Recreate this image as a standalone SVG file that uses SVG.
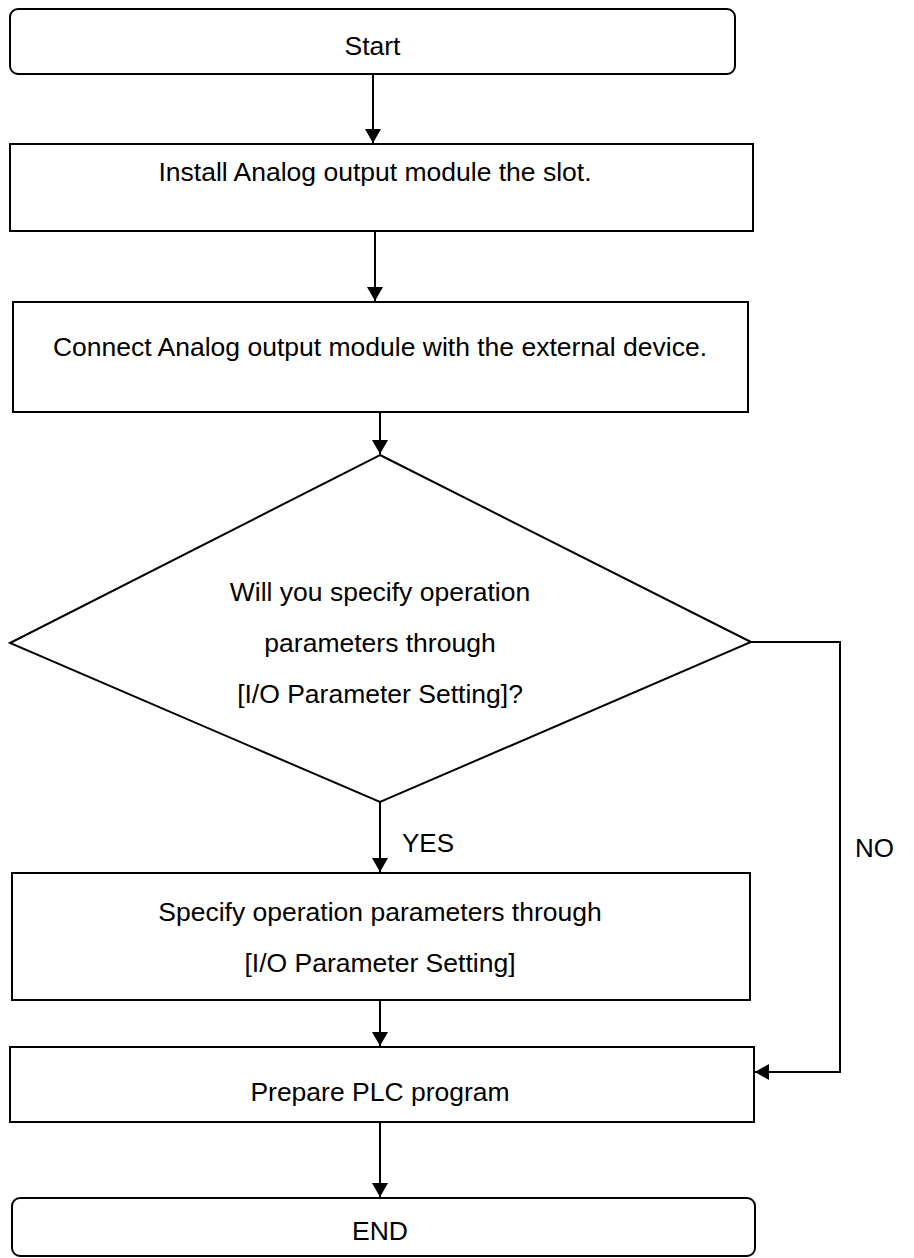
<svg xmlns="http://www.w3.org/2000/svg" width="914" height="1258" viewBox="0 0 914 1258">
<style>
.box{fill:#fff;stroke:#000;stroke-width:2}
.ln{fill:none;stroke:#000;stroke-width:2}
.t{font-family:"Liberation Sans",Arial,sans-serif;font-size:26.5px;fill:#000;text-anchor:middle}
.l{font-family:"Liberation Sans",Arial,sans-serif;font-size:26px;fill:#000}
</style>
<defs>
<marker id="arr" markerWidth="16" markerHeight="16" refX="14" refY="8" orient="auto" markerUnits="userSpaceOnUse">
<path d="M0,0 L14,8 L0,16 Z" fill="#000"/>
</marker>
</defs>
<rect width="914" height="1258" fill="#fff"/>
<g id="connectors">
<line class="ln" x1="373" y1="74" x2="373" y2="143" marker-end="url(#arr)"/>
<line class="ln" x1="375" y1="231" x2="375" y2="301" marker-end="url(#arr)"/>
<line class="ln" x1="380" y1="412" x2="380" y2="454" marker-end="url(#arr)"/>
<line class="ln" x1="380" y1="802" x2="380" y2="872" marker-end="url(#arr)"/>
<line class="ln" x1="380" y1="1000" x2="380" y2="1046" marker-end="url(#arr)"/>
<line class="ln" x1="380" y1="1122" x2="380" y2="1197" marker-end="url(#arr)"/>
<polyline class="ln" points="751,642 840,642 840,1072 755,1072" marker-end="url(#arr)"/>
<text class="l" x="402" y="852">YES</text>
<text class="l" x="855" y="857">NO</text>
</g>
<g id="start">
<rect class="box" x="10" y="9" width="725" height="65" rx="8"/>
<text class="t" x="372.5" y="55">Start</text>
</g>
<g id="install">
<rect class="box" x="10" y="144" width="743" height="87"/>
<text class="t" x="375" y="181">Install Analog output module the slot.</text>
</g>
<g id="connect">
<rect class="box" x="13" y="302" width="735" height="110"/>
<text class="t" x="380" y="356">Connect Analog output module with the external device.</text>
</g>
<g id="decision">
<polygon class="box" points="380,455 751,642 380,802 10,643"/>
<text class="t" x="380" y="601">Will you specify operation</text>
<text class="t" x="380" y="652">parameters through</text>
<text class="t" x="380" y="703">[I/O Parameter Setting]?</text>
</g>
<g id="specify">
<rect class="box" x="12" y="873" width="738" height="127"/>
<text class="t" x="380" y="921">Specify operation parameters through</text>
<text class="t" x="380" y="972">[I/O Parameter Setting]</text>
</g>
<g id="prepare">
<rect class="box" x="10" y="1047" width="744" height="75"/>
<text class="t" x="380" y="1101">Prepare PLC program</text>
</g>
<g id="end">
<rect class="box" x="12" y="1198" width="743" height="58" rx="8"/>
<text class="t" x="380" y="1240">END</text>
</g>
</svg>
